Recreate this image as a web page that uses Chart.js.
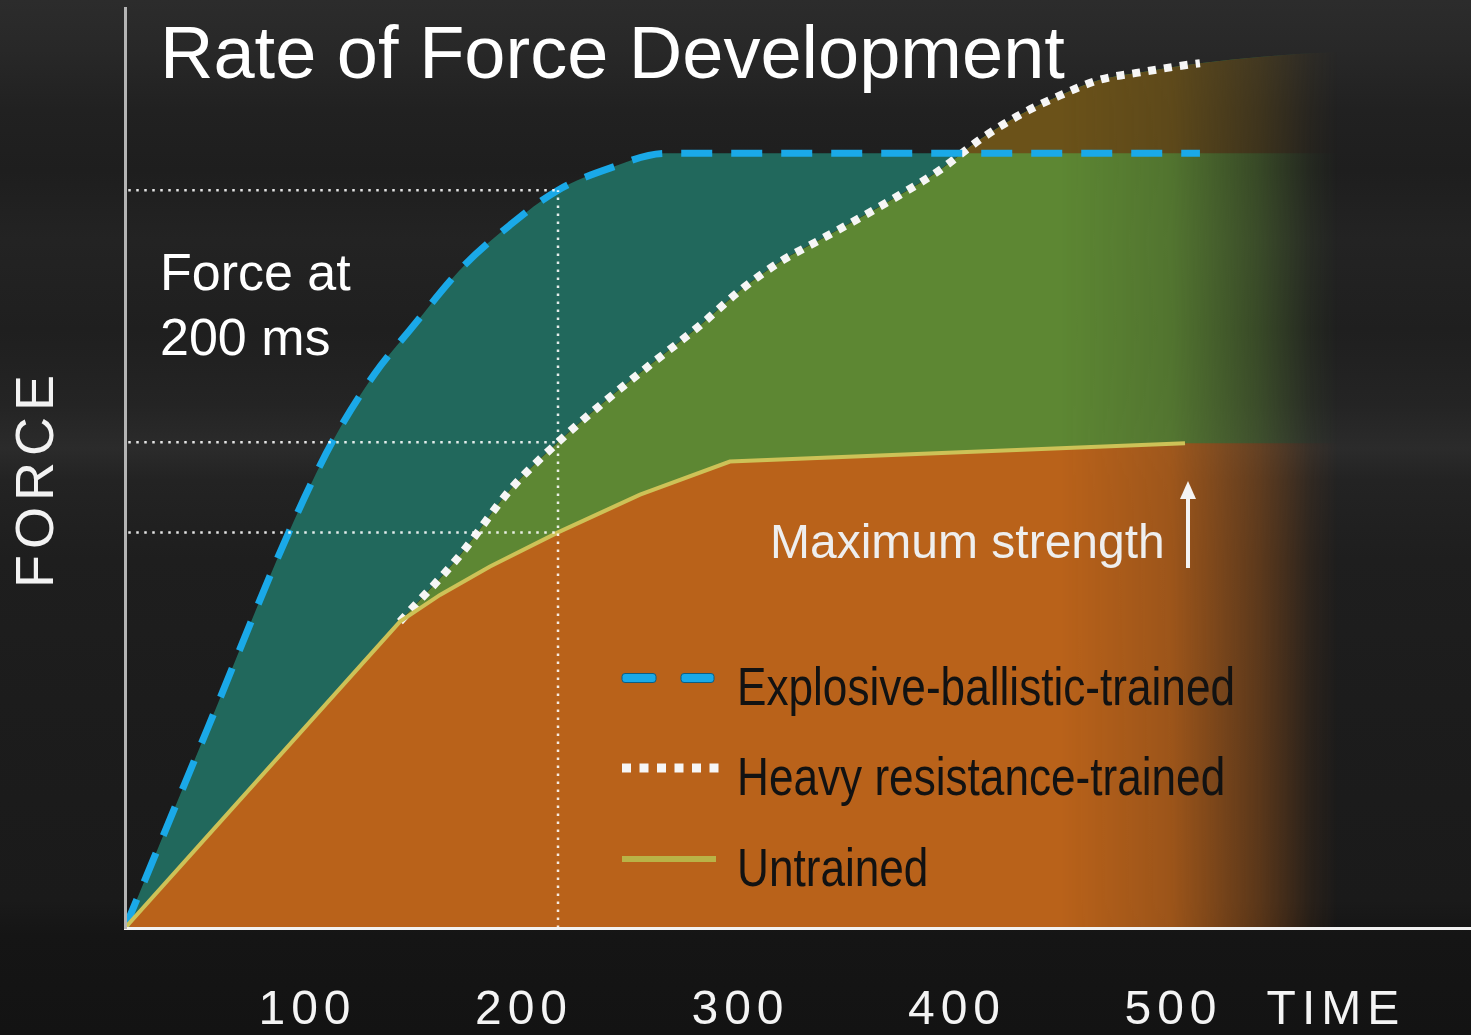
<!DOCTYPE html>
<html>
<head>
<meta charset="utf-8">
<title>Rate of Force Development</title>
<script src="https://cdn.jsdelivr.net/npm/chart.js@4.4.1/dist/chart.umd.min.js"></script>
<style>
  html, body { margin: 0; padding: 0; }
  body {
    width: 1471px; height: 1035px; overflow: hidden;
    background: linear-gradient(to bottom,
      #2c2c2c 0px, #282828 50px, #212121 110px, #1e1e1e 170px, #232323 240px,
      #1f1f1f 330px, #242424 405px, #2b2b2b 448px, #232323 480px, #1e1e1e 560px,
      #1c1c1c 700px, #1a1a1a 900px, #151515 935px, #131313 1035px);
  }
  #wrap { position: relative; width: 1471px; height: 1035px; }
  canvas { display: block; }
</style>
</head>
<body>
<div id="wrap"><canvas id="rfd" width="1471" height="1035"></canvas></div>
<script>
const FONT = "'Liberation Sans', Arial, Helvetica, sans-serif";

// Force (percent of the plotted range) over time (ms) for the three groups.
const explosiveTime  = [0, 38.0, 76.2, 96.1, 115.5, 131.6, 157.0, 177.8, 200, 224.0, 249.4, 496.5, 621.7];
const explosiveForce = [0, 21.6, 43.3, 53.0, 60.3, 65.0, 72.1, 76.4, 80.2, 82.6, 84.2, 84.2, 84.2];

const heavyTime  = [0, 127.0, 154.7, 177.8, 200, 219.4, 242.5, 265.6, 284.1, 302.5, 321.0, 339.5, 358.0, 376.4, 394.9, 413.4, 431.9, 450.3, 468.8, 496.5, 556.6, 621.7];
const heavyForce = [0, 33.3, 40.5, 47.6, 52.8, 56.8, 61.2, 65.5, 69.3, 72.4, 74.8, 77.2, 79.7, 82.4, 85.7, 88.4, 90.5, 92.2, 93.0, 94.0, 95.2, 95.4];

const untrainedTime  = [0, 127.0, 145.5, 168.6, 200, 237.9, 279.4, 489.6, 621.7];
const untrainedForce = [0, 33.3, 36.2, 39.3, 43.0, 47.1, 50.7, 52.7, 52.7];

// Where each curve is stroked (the filled areas carry on to the edge).
const explosiveLineEnd = 496.5;
const heavyLineStart = 127.0;
const heavyLineEnd = 496.5;
const untrainedLineEnd = 489.6;

const seriesNames = ['Explosive-ballistic-trained', 'Heavy resistance-trained', 'Untrained'];
const tickValues = [100, 200, 300, 400, 500, 575];
const tickLabels = ['100', '200', '300', '400', '500', 'TIME'];
const refTime = 200;

const pts = (xs, ys) => xs.map((x, i) => ({ x, y: ys[i] }));
const forceAt = (xs, ys, t) => ys[xs.indexOf(t)];

const exAt = forceAt(explosiveTime, explosiveForce, refTime);
const hvAt = forceAt(heavyTime, heavyForce, refTime);
const unAt = forceAt(untrainedTime, untrainedForce, refTime);

const C = {
  orange: '#b9621a',
  green: '#5d8733',
  teal: '#21685c',
  brown: '#6b5219',
  blue: '#1aa9e8',
  dots: '#f6f6f6',
  olive: '#cdc257',
  ref: 'rgba(255,255,255,0.88)'
};

const hidden = 'rgba(0,0,0,0)';
const showBetween = (from, to, color) => (ctx) =>
  (ctx.p0.parsed.x >= from && ctx.p0.parsed.x < to) ? color : hidden;

const refLine = (data) => ({
  data, borderColor: C.ref, borderWidth: 2.5, borderDash: [2.5, 5.5],
  pointRadius: 0, fill: false, tension: 0
});

const datasets = [
  // dotted guides at the reference time
  refLine([{ x: 1.5, y: exAt }, { x: refTime, y: exAt }]),
  refLine([{ x: 1.5, y: hvAt }, { x: refTime, y: hvAt }]),
  refLine([{ x: 1.5, y: unAt }, { x: refTime, y: unAt }]),
  refLine([{ x: refTime, y: 0 }, { x: refTime, y: exAt }]),
  // stroked curves
  {
    label: seriesNames[2],
    data: pts(untrainedTime, untrainedForce),
    borderColor: C.olive, borderWidth: 4, fill: false, tension: 0, pointRadius: 0,
    segment: { borderColor: showBetween(0, untrainedLineEnd, C.olive) }
  },
  {
    label: seriesNames[0],
    data: pts(explosiveTime, explosiveForce),
    borderColor: C.blue, borderWidth: 7, borderDash: [31, 19], borderCapStyle: 'butt',
    fill: false, cubicInterpolationMode: 'monotone', pointRadius: 0,
    segment: { borderColor: showBetween(0, explosiveLineEnd, C.blue) }
  },
  {
    label: seriesNames[1],
    data: pts(heavyTime, heavyForce),
    borderColor: C.dots, borderWidth: 8, borderDash: [8, 8], borderCapStyle: 'butt',
    fill: false, cubicInterpolationMode: 'monotone', pointRadius: 0,
    segment: { borderColor: showBetween(heavyLineStart, heavyLineEnd, C.dots) }
  },
  // filled areas
  {
    data: pts(untrainedTime, untrainedForce),
    borderWidth: 0, backgroundColor: C.orange, fill: 'origin', tension: 0, pointRadius: 0
  },
  {
    data: pts(explosiveTime, explosiveForce),
    borderWidth: 0, fill: { target: '+1', above: C.teal, below: C.brown },
    cubicInterpolationMode: 'monotone', pointRadius: 0
  },
  {
    data: pts(heavyTime, heavyForce),
    borderWidth: 0, backgroundColor: C.green, fill: 'origin',
    cubicInterpolationMode: 'monotone', pointRadius: 0
  }
];

// Axis text is letter-spaced; fills fade out to the right before the curves are stroked.
const artwork = {
  id: 'artwork',
  beforeDraw(chart) {
    chart.ctx.letterSpacing = '6px';
  },
  beforeDatasetsDraw(chart) {
    const { ctx, chartArea: a } = chart;
    ctx.letterSpacing = '0px';
    const fadeFrom = 1060, fadeTo = 1338;
    ctx.save();
    ctx.globalCompositeOperation = 'destination-out';
    const g = ctx.createLinearGradient(fadeFrom, 0, fadeTo, 0);
    g.addColorStop(0, 'rgba(0,0,0,0)');
    g.addColorStop(0.4, 'rgba(0,0,0,0.18)');
    g.addColorStop(0.72, 'rgba(0,0,0,0.6)');
    g.addColorStop(0.9, 'rgba(0,0,0,0.9)');
    g.addColorStop(1, 'rgba(0,0,0,1)');
    ctx.fillStyle = g;
    ctx.fillRect(fadeFrom, a.top, a.right - fadeFrom, a.bottom - a.top - 1);
    ctx.restore();
  },
  afterDatasetsDraw(chart) {
    const ctx = chart.ctx;
    ctx.save();
    ctx.letterSpacing = '0px';
    ctx.textBaseline = 'alphabetic';
    ctx.textAlign = 'left';

    ctx.fillStyle = '#ffffff';
    ctx.font = `74px ${FONT}`;
    ctx.fillText('Rate of Force Development', 160, 78);

    ctx.font = `52px ${FONT}`;
    ctx.fillText('Force at', 160, 290);
    ctx.fillText(`${refTime} ms`, 160, 355);

    ctx.fillStyle = '#eeeeee';
    ctx.font = `48px ${FONT}`;
    ctx.fillText('Maximum strength', 770, 558);

    // upward arrow
    ctx.strokeStyle = '#f4f4f4';
    ctx.fillStyle = '#f4f4f4';
    ctx.lineWidth = 4;
    ctx.beginPath(); ctx.moveTo(1188, 568); ctx.lineTo(1188, 496); ctx.stroke();
    ctx.beginPath(); ctx.moveTo(1188, 481); ctx.lineTo(1180, 499); ctx.lineTo(1196, 499); ctx.closePath(); ctx.fill();

    // legend
    const ds = chart.data.datasets;
    const order = [5, 6, 4];
    const rowY = [678, 768, 859];
    ctx.font = `53px ${FONT}`;
    const squeeze = 498 / ctx.measureText(seriesNames[0]).width;
    order.forEach((idx, r) => {
      const d = ds[idx];
      const y = rowY[r];
      if (r === 0) {
        ctx.fillStyle = d.borderColor;
        ctx.strokeStyle = '#0d5d82';
        ctx.lineWidth = 1;
        [[622, 656], [681, 714]].forEach(([a, b]) => {
          ctx.beginPath(); ctx.roundRect(a, y - 4.5, b - a, 9, 3); ctx.fill(); ctx.stroke();
        });
      } else if (r === 1) {
        ctx.fillStyle = d.borderColor;
        for (let k = 0; k < 6; k++) ctx.fillRect(622 + k * 17.5, y - 4.5, 9, 9);
      } else {
        ctx.fillStyle = '#b9b347';
        ctx.fillRect(622, y - 3, 94, 6);
      }
      ctx.save();
      ctx.fillStyle = '#121212';
      ctx.translate(737, y + 27);
      ctx.scale(squeeze, 1);
      ctx.fillText(d.label, 0, 0);
      ctx.restore();
    });
    ctx.restore();
    ctx.letterSpacing = '6px';
  },
  afterDraw(chart) {
    chart.ctx.letterSpacing = '0px';
  }
};

new Chart(document.getElementById('rfd'), {
  type: 'line',
  data: { datasets },
  options: {
    responsive: false,
    devicePixelRatio: 1,
    animation: false,
    events: [],
    layout: { padding: { top: 8, right: 0, bottom: 0, left: 0 } },
    plugins: {
      legend: { display: false },
      tooltip: { enabled: false },
      filler: { drawTime: 'beforeDatasetsDraw' }
    },
    scales: {
      x: {
        type: 'linear', min: 0, max: 621.7,
        afterFit: (s) => { s.height = 107; s.paddingLeft = 0; s.paddingRight = 0; },
        afterBuildTicks: (s) => { s.ticks = tickValues.map(v => ({ value: v })); },
        grid: { display: false, drawTicks: false },
        border: { display: true, color: '#f2f2f2', width: 3, z: 1 },
        ticks: {
          padding: 54, labelOffset: -34, autoSkip: false, maxRotation: 0,
          color: '#f4f4f4', font: { family: FONT, size: 48 },
          callback: (v) => tickLabels[tickValues.indexOf(v)]
        }
      },
      y: {
        type: 'linear', min: 0, max: 100,
        afterFit: (s) => { s.width = 125; s.paddingTop = 0; s.paddingBottom = 0; },
        grid: { display: false, drawTicks: false },
        border: { display: true, color: '#b4b4b4', width: 3, z: 1 },
        ticks: { display: false },
        title: {
          display: true, text: 'FORCE ', color: '#f2f2f2',
          font: { family: FONT, size: 54 }, padding: { top: 6, bottom: 0 }
        }
      }
    }
  },
  plugins: [artwork]
});
</script>
</body>
</html>
